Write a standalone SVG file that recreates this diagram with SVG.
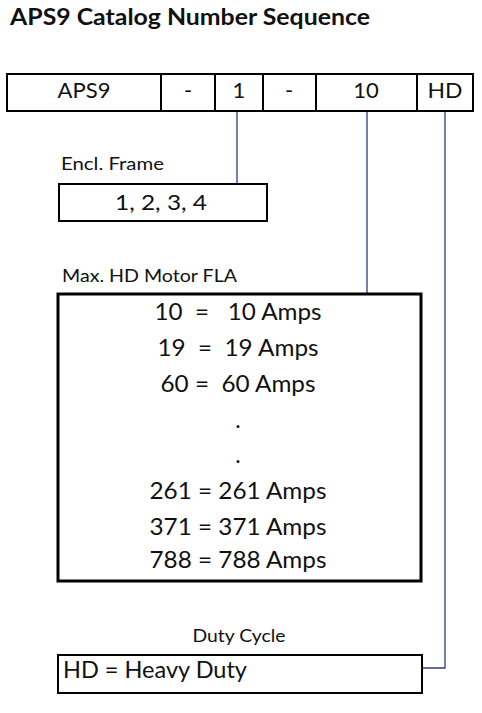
<svg xmlns="http://www.w3.org/2000/svg" width="482" height="713" viewBox="0 0 482 713">
<style>
text{font-family:Lato,"Open Sans","Liberation Sans",sans-serif;fill:#111}
.t{font-size:22px;text-anchor:middle}
.lbl{font-size:16.5px}
.big{font-size:23px;text-anchor:middle}
.box{fill:#fff;stroke:#000}
.con{fill:none;stroke:#2b3d80;stroke-width:1.3}
</style>
<rect width="482" height="713" fill="#fff"/>
<text x="10" y="25" style="font-size:23.5px;font-weight:bold" textLength="360" lengthAdjust="spacingAndGlyphs">APS9 Catalog Number Sequence</text>
<g id="connectors">
<path class="con" d="M237,111 V183"/>
<path class="con" d="M367,111 V293"/>
<path class="con" d="M445,111 V668 H422"/>
</g>
<g id="sequence">
<rect class="box" x="7" y="74" width="466" height="37" stroke-width="2"/>
<path d="M161,74 V111 M215,74 V111 M263,74 V111 M316,74 V111 M417,74 V111" stroke="#000" stroke-width="2"/>
<text class="t" x="84" y="98">APS9</text>
<text class="t" x="188" y="98">-</text>
<text class="t" x="239" y="98">1</text>
<text class="t" x="289" y="98">-</text>
<text class="t" x="366" y="98">10</text>
<text class="t" x="445" y="98" textLength="35" lengthAdjust="spacingAndGlyphs">HD</text>
</g>
<g id="encl-frame">
<text class="lbl" x="61" y="170" textLength="103" lengthAdjust="spacingAndGlyphs">Encl. Frame</text>
<rect class="box" x="59" y="184" width="208" height="37" stroke-width="2"/>
<text class="t" x="161" y="210" textLength="92" lengthAdjust="spacingAndGlyphs">1, 2, 3, 4</text>
</g>
<g id="motor-fla">
<text class="lbl" x="62" y="282" textLength="175" lengthAdjust="spacingAndGlyphs">Max. HD Motor FLA</text>
<rect class="box" x="58" y="294" width="363" height="287" stroke-width="3"/>
<text class="big" x="238" y="320" xml:space="preserve" textLength="167" lengthAdjust="spacingAndGlyphs">10  =   10 Amps</text>
<text class="big" x="238" y="356" xml:space="preserve" textLength="161" lengthAdjust="spacingAndGlyphs">19  =  19 Amps</text>
<text class="big" x="238" y="392" xml:space="preserve" textLength="155" lengthAdjust="spacingAndGlyphs">60 =  60 Amps</text>
<text class="big" x="238" y="428">.</text>
<text class="big" x="238" y="463">.</text>
<text class="big" x="238" y="499" textLength="177" lengthAdjust="spacingAndGlyphs">261 = 261 Amps</text>
<text class="big" x="238" y="535" textLength="177" lengthAdjust="spacingAndGlyphs">371 = 371 Amps</text>
<text class="big" x="238" y="568" textLength="177" lengthAdjust="spacingAndGlyphs">788 = 788 Amps</text>
</g>
<g id="duty-cycle">
<text class="lbl" x="239" y="642" text-anchor="middle" textLength="93" lengthAdjust="spacingAndGlyphs">Duty Cycle</text>
<rect class="box" x="58" y="655" width="364" height="38" stroke-width="2"/>
<text x="63" y="678" style="font-size:23px" textLength="184" lengthAdjust="spacingAndGlyphs">HD = Heavy Duty</text>
</g>
</svg>
